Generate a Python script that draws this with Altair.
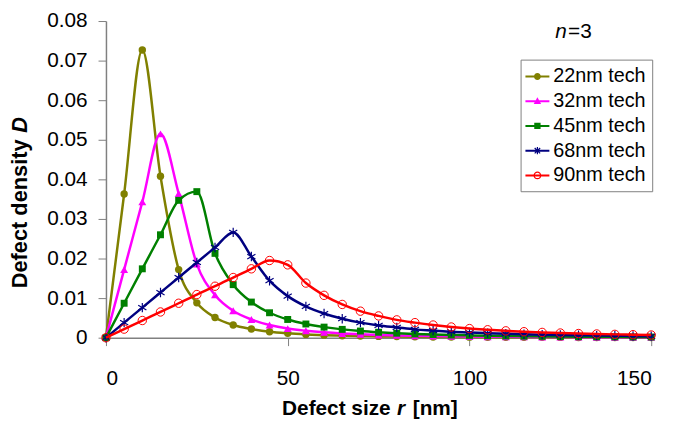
import altair as alt
import pandas as pd

# ---------------- data ----------------
r_nm = [0, 5, 10, 15, 20, 25, 30, 35, 40, 45, 50, 55, 60, 65, 70, 75,
        80, 85, 90, 95, 100, 105, 110, 115, 120, 125, 130, 135, 140, 145, 150]

series_names = ["22nm tech", "32nm tech", "45nm tech", "68nm tech", "90nm tech"]
series_colors = ["#808000", "#FF00FF", "#008000", "#000080", "#FF0000"]

d_22nm = [0, 0.0363, 0.0727, 0.0408, 0.0172, 0.0088, 0.0051, 0.0032, 0.0022,
          0.0015, 0.0011, 0.00083, 0.00064, 0.0005, 0.0004, 0.00033, 0.00027,
          0.00022, 0.00019, 0.00016, 0.00014, 0.00012, 0.0001, 0.00009,
          0.00008, 0.00007, 0.00006, 0.00006, 0.00005, 0.00005, 0.00004]
d_32nm = [0, 0.0172, 0.0343, 0.0515, 0.0364, 0.0186, 0.0108, 0.0068, 0.0046,
          0.0032, 0.0023, 0.00175, 0.00135, 0.00106, 0.00085, 0.00069,
          0.00057, 0.00047, 0.0004, 0.00034, 0.00029, 0.00025, 0.00022,
          0.00019, 0.00017, 0.00015, 0.00013, 0.00012, 0.00011, 0.0001, 0.00009]
d_45nm = [0, 0.0087, 0.0174, 0.026, 0.0347, 0.0369, 0.0213, 0.0134, 0.009,
          0.0063, 0.0046, 0.00346, 0.00267, 0.0021, 0.00168, 0.00137,
          0.00113, 0.00094, 0.00079, 0.00067, 0.00058, 0.0005, 0.00043,
          0.00038, 0.00033, 0.00029, 0.00026, 0.00023, 0.00021, 0.00019, 0.00017]
d_68nm = [0, 0.0038, 0.0076, 0.0114, 0.0152, 0.019, 0.0228, 0.0266, 0.0205,
          0.0144, 0.0105, 0.0079, 0.0061, 0.0048, 0.0038, 0.0031, 0.0026,
          0.0021, 0.0018, 0.0015, 0.0013, 0.00114, 0.00099, 0.00086, 0.00076,
          0.00067, 0.0006, 0.00053, 0.00048, 0.00043, 0.00039]
d_90nm = [0, 0.00217, 0.00434, 0.0065, 0.0087, 0.0109, 0.013, 0.0152, 0.0174,
          0.0195, 0.0184, 0.0138, 0.0107, 0.0084, 0.0067, 0.0055, 0.0045,
          0.0038, 0.0032, 0.0027, 0.0023, 0.002, 0.00173, 0.00151, 0.00133,
          0.00118, 0.00105, 0.00094, 0.00084, 0.00076, 0.00068]

x_ticks = [0, 50, 100, 150]
y_ticks = [0, 0.01, 0.02, 0.03, 0.04, 0.05, 0.06, 0.07, 0.08]

all_values = [d_22nm, d_32nm, d_45nm, d_68nm, d_90nm]

# ---------------- styles ----------------
FONT = "Liberation Sans"
GREY = "#808080"

marker_styles = [
    dict(shape="circle", filled=True, size=56),
    dict(shape="triangle-up", filled=True, size=64),
    dict(shape="square", filled=True, size=49),
    dict(shape="M0,-1V1M-0.87,-0.5L0.87,0.5M-0.87,0.5L0.87,-0.5", filled=False, size=90, strokeWidth=1.2),
    dict(shape="circle", filled=False, size=72, strokeWidth=1),
]

# legend symbols: a line segment with the marker on it (all drawn as filled paths)
BAR = "M-1.1,-0.09H1.1V0.09H-1.1Z"
legend_paths = [
    BAR + "M-0.32,0A0.32,0.32 0 1,1 0.32,0A0.32,0.32 0 1,1 -0.32,0Z",
    BAR + "M0,-0.36L0.34,0.25L-0.34,0.25Z",
    BAR + "M-0.29,-0.29H0.29V0.29H-0.29Z",
    BAR + "M-0.055,-0.34H0.055V0.34H-0.055Z"
        + "M-0.29,-0.21L-0.21,-0.29L0.29,0.21L0.21,0.29Z"
        + "M-0.21,0.29L-0.29,0.21L0.21,-0.29L0.29,-0.21Z",
    BAR + "M-0.36,0A0.36,0.36 0 1,1 0.36,0A0.36,0.36 0 1,1 -0.36,0Z"
        + "M-0.25,0A0.25,0.25 0 1,0 0.25,0A0.25,0.25 0 1,0 -0.25,0Z",
]

rows = []
for name, vals in zip(series_names, all_values):
    for r, d in zip(r_nm, vals):
        rows.append({"r": r, "D": d, "series": name})
df = pd.DataFrame(rows)

x_enc = alt.X("r:Q", scale=alt.Scale(domain=[0, 150], nice=False),
              axis=alt.Axis(values=x_ticks, title=None, grid=False, labelFontSize=21,
                            labelFont=FONT, labelColor="black", tickColor=GREY,
                            domainColor=GREY, tickSize=8, labelPadding=22, domainWidth=1.5))
y_enc = alt.Y("D:Q", scale=alt.Scale(domain=[0, 0.08], nice=False),
              axis=alt.Axis(values=y_ticks, title=None, grid=False, labelFontSize=21,
                            labelFont=FONT, labelColor="black", tickColor=GREY,
                            domainColor=GREY, tickSize=8, labelPadding=11, domainWidth=1.5,
                            labelExpr="datum.value == 0 ? '0' : format(datum.value, '.2f')"))

layers = []
for name, col, st in zip(series_names, series_colors, marker_styles):
    base = alt.Chart(df).transform_filter(alt.datum.series == name)
    line = base.mark_line(interpolate="monotone", strokeWidth=2.5, color=col).encode(x=x_enc, y=y_enc)
    pt_kwargs = dict(shape=st["shape"], filled=st["filled"], size=st["size"], opacity=1, color=col)
    if "strokeWidth" in st:
        pt_kwargs["strokeWidth"] = st["strokeWidth"]
    pts = base.mark_point(**pt_kwargs).encode(x=x_enc, y=y_enc)
    layers += [line, pts]

# legend layer (points fall outside the x domain and are clipped away)
legend_df = pd.DataFrame({"r": [-50] * 5, "D": [0.04] * 5, "series": series_names})
leg_props = dict(title=None, orient="none", legendX=419, legendY=39, strokeColor=GREY,
                 fillColor="white", padding=6, labelFontSize=20, labelFont=FONT,
                 labelColor="black", symbolSize=484, symbolStrokeWidth=0, rowPadding=4,
                 labelOffset=5, cornerRadius=0)
legend_layer = alt.Chart(legend_df).mark_point(filled=True, clip=True, size=484, opacity=1).encode(
    x=x_enc, y=y_enc,
    color=alt.Color("series:N", scale=alt.Scale(domain=series_names, range=series_colors),
                    legend=alt.Legend(**leg_props)),
    shape=alt.Shape("series:N", scale=alt.Scale(domain=series_names, range=legend_paths),
                    legend=alt.Legend(**leg_props)),
)
layers.append(legend_layer)

# texts (titles and annotation)
one = pd.DataFrame({"k": [0]})
def txt(s, x, y, angle=0, italic=False, bold=True, size=21, align="left"):
    return alt.Chart(one).mark_text(
        text=s, font=FONT, fontSize=size, fontWeight="bold" if bold else "normal",
        fontStyle="italic" if italic else "normal", align=align, baseline="middle",
        angle=angle, color="black").encode(x=alt.value(x), y=alt.value(y))

layers += [
    txt("Defect size ", 178, 392),
    txt("r", 294, 392, italic=True),
    txt("[nm]", 310, 392),
    txt("Defect density ", -87, 270, angle=270, size=22),
    txt("D", -87, 113, angle=270, italic=True, size=22),
    txt("n", 454, 11, italic=True, bold=False, size=21),
    txt("=3", 467, 11, bold=False, size=21),
]

chart = alt.layer(*layers).properties(
    width=551, height=320,
    autosize=alt.AutoSizeParams(type="none"),
    padding={"left": 99, "top": 11, "right": 20, "bottom": 80},
    background="white",
).configure_view(stroke=None)

chart.save("out.html", embed_options={"renderer": "svg", "actions": False})
